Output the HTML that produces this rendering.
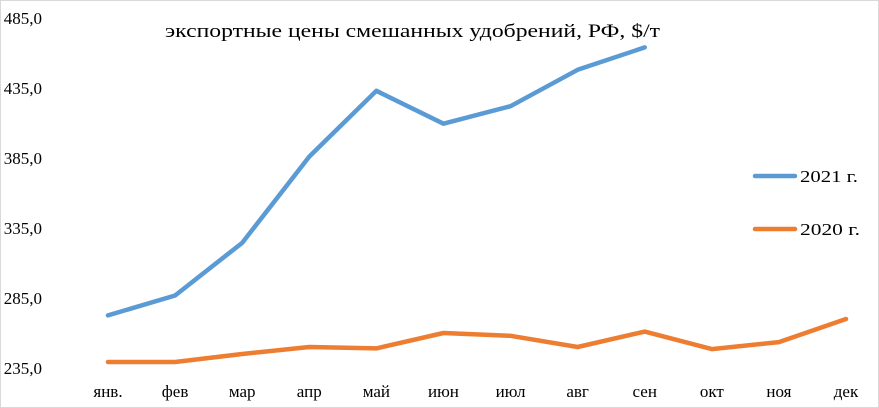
<!DOCTYPE html>
<html><head><meta charset="utf-8"><style>
body{margin:0;background:#fff}
svg{display:block;font-family:"Liberation Serif",serif}
</style></head><body>
<svg id="chart" width="879" height="408" viewBox="0 0 879 408">
<rect x="0.5" y="0.5" width="878" height="407" fill="#fff" stroke="#d9d9d9"/>
<text x="165" y="37" font-size="19" textLength="495" lengthAdjust="spacingAndGlyphs" fill="#000">экспортные цены смешанных удобрений, РФ, $/т</text>
<g id="yaxis"></g>
<g id="xaxis"></g>
<g id="series"></g>
<g>
<line x1="755" y1="176" x2="795" y2="176" stroke="#5b9bd5" stroke-width="4.5" stroke-linecap="round"/>
<text x="800" y="182" font-size="17" textLength="58" lengthAdjust="spacingAndGlyphs">2021 г.</text>
<line x1="755" y1="229" x2="795" y2="229" stroke="#ed7d31" stroke-width="4.5" stroke-linecap="round"/>
<text x="800" y="235" font-size="17" textLength="60" lengthAdjust="spacingAndGlyphs">2020 г.</text>
</g>
</svg>
<script>
const categories=["янв.","фев","мар","апр","май","июн","июл","авг","сен","окт","ноя","дек"];
const series2021=[272.6,286.8,324.4,386,433,409.5,422,448,464];
const series2020=[239.3,239.3,245,250,249,260,258,250,261,248.5,253.5,270];
const yTicks=[235,285,335,385,435,485];
const yMin=235,yMax=485,yTop=18,yBot=368,x0=108,x1=846;
const NS="http://www.w3.org/2000/svg";
const X=i=>x0+i*(x1-x0)/(categories.length-1);
const Y=v=>yBot-(v-yMin)/(yMax-yMin)*(yBot-yTop);
function mk(t,a,p){const e=document.createElementNS(NS,t);for(const k in a)e.setAttribute(k,a[k]);p.appendChild(e);return e;}
const ya=document.getElementById('yaxis'),xa=document.getElementById('xaxis'),sg=document.getElementById('series');
yTicks.forEach(v=>{const t=mk('text',{x:42,y:Y(v)+6,'font-size':17,'text-anchor':'end'},ya);t.textContent=v.toFixed(1).replace('.',',');

});
categories.forEach((c,i)=>{const t=mk('text',{x:X(i),y:397,'font-size':17,'text-anchor':'middle'},xa);t.textContent=c;

});
function line(d,col,name){const p=mk('polyline',{points:d.map((v,i)=>X(i)+','+Y(v)).join(' '),fill:'none',stroke:col,'stroke-width':4.5,'stroke-linejoin':'round','stroke-linecap':'round'},sg);

}
line(series2020,'#ed7d31','line-2020');
line(series2021,'#5b9bd5','line-2021');
</script>
</body></html>
